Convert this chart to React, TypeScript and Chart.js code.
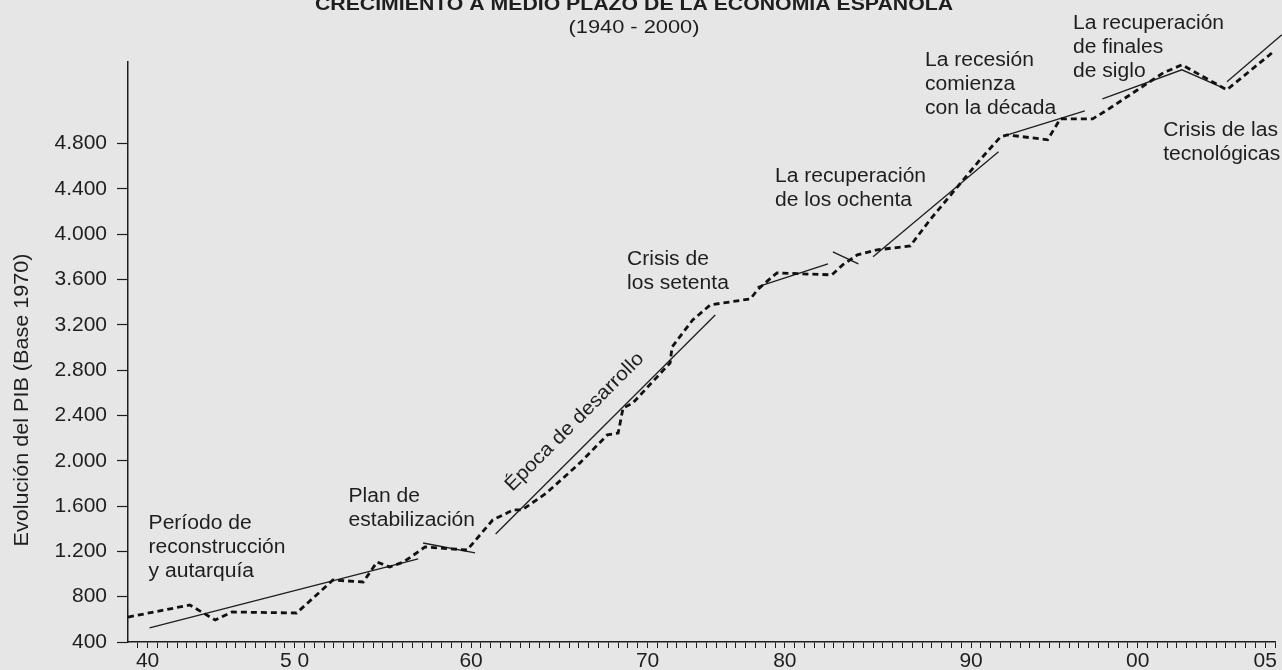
import React, { useEffect, useRef } from 'react';
import { Chart, registerables } from 'chart.js';

Chart.register(...registerables);

// ---- axis ticks ----
const xTickPositions = [1, 16, 34, 52, 66, 85, 102, 115];
const xTickLabels = ['40', '5 0', '60', '70', '80', '90', '00', '05'];
const yTickValues = [400, 800, 1200, 1600, 2000, 2400, 2800, 3200, 3600, 4000, 4400, 4800];

// ---- PIB series (dotted), x in minor-tick units ----
const gdpX = [-1.0, 4.8, 5.3, 7.9, 9.6, 16.2, 19.9, 23.0, 24.4, 25.7, 27.1, 29.3, 33.6, 36.2, 38.3, 39.2, 41.7, 45.1, 47.9, 49.0, 49.5, 50.5, 54.3, 54.5, 56.6, 58.4, 62.5, 63.2, 64.7, 65.2, 70.8, 71.9, 73.4, 75.4, 78.8, 80.8, 84.2, 85.9, 88.0, 88.7, 92.8, 94.1, 97.4, 98.9, 104.6, 106.5, 111.1, 111.7, 115.7];
const gdpY = [620, 718, 727, 594, 665, 656, 947, 930, 1106, 1062, 1106, 1239, 1212, 1477, 1566, 1566, 1716, 1981, 2228, 2245, 2466, 2510, 2864, 3005, 3243, 3376, 3429, 3508, 3623, 3658, 3641, 3729, 3817, 3861, 3897, 4126, 4479, 4656, 4859, 4877, 4833, 5018, 5018, 5098, 5424, 5495, 5274, 5318, 5601];

// ---- trend segments (solid) ----
const trendReconstruccionX = [1.2, 28.6];
const trendReconstruccionY = [524, 1133];
const trendEstabilizacionX = [29.1, 34.4];
const trendEstabilizacionY = [1274, 1186];
const trendDesarrolloX = [36.5, 58.9];
const trendDesarrolloY = [1354, 3287];
const trendSetentaX = [63.2, 70.4];
const trendSetentaY = [3535, 3738];
const trendCruceX = [70.9, 73.5];
const trendCruceY = [3844, 3738];
const trendOchentaX = [75.0, 87.8];
const trendOchentaY = [3800, 4727];
const trendRecesionX = [88.7, 96.6];
const trendRecesionY = [4877, 5089];
const trendFinalesX = [98.4, 106.5, 110.7];
const trendFinalesY = [5195, 5451, 5292];
const trendTecnoX = [111.1, 116.7];
const trendTecnoY = [5345, 5760];

// ---- texts ----
const titleText = 'CRECIMIENTO A MEDIO PLAZO DE LA ECONOMÍA ESPAÑOLA';
const subtitleText = '(1940 - 2000)';
const yAxisTitle = 'Evolución del PIB (Base 1970)';
const noteTexts = [
  ['Período de', 'reconstrucción', 'y autarquía'],
  ['Plan de', 'estabilización'],
  ['Crisis de', 'los setenta'],
  ['La recuperación', 'de los ochenta'],
  ['La recesión', 'comienza', 'con la década'],
  ['La recuperación', 'de finales', 'de siglo'],
  ['Crisis de las', 'tecnológicas'],
];
const diagonalNote = 'Época de desarrollo';

// anchors of the notes (data coordinates: x unit, PIB value at first baseline)
const noteAnchorX = [1.1, 21.5, 49.9, 65.0, 80.3, 95.4, 104.6];
const noteAnchorY = [1398, 1636, 3729, 4462, 5486, 5813, 4868];
const diagonalAnchor = { x: 38.2, y: 1724 };

const BG = '#e6e6e6';
const INK = '#1e1e1e';
const FAMILY = '"Liberation Sans", Arial, Helvetica, sans-serif';
const STRETCH = 1.08;

function fmtThousands(v: number): string {
  if (v < 1000) return String(v);
  const th = Math.floor(v / 1000);
  const rest = String(v % 1000).padStart(3, '0');
  return th + '.' + rest;
}

function drawStretched(ctx: CanvasRenderingContext2D, text: string, x: number, y: number, sx: number, align: 'left' | 'center') {
  const w = ctx.measureText(text).width * sx;
  ctx.save();
  ctx.translate(align === 'center' ? x - w / 2 : x, y);
  ctx.scale(sx, 1);
  ctx.textAlign = 'left';
  ctx.fillText(text, 0, 0);
  ctx.restore();
}

function drawFitted(ctx: CanvasRenderingContext2D, text: string, cx: number, y: number, targetW: number) {
  const w = ctx.measureText(text).width;
  drawStretched(ctx, text, cx, y, targetW / w, 'center');
}

const pts = (xs: number[], ys: number[]) => xs.map((x, i) => ({ x, y: ys[i] }));

export default function App() {
  const ref = useRef<HTMLCanvasElement>(null);

  useEffect(() => {
    document.body.style.margin = '0';
    document.body.style.background = BG;
    const canvas = ref.current;
    if (!canvas) return;

    const decor = {
      id: 'decor',
      beforeDraw(chart: any) {
        const { ctx, width, height } = chart;
        ctx.save();
        ctx.fillStyle = BG;
        ctx.fillRect(0, 0, width, height);
        ctx.restore();
      },
      afterDraw(chart: any) {
        const ctx: CanvasRenderingContext2D = chart.ctx;
        const xs = chart.scales.x;
        const ys = chart.scales.y;
        ctx.save();
        ctx.fillStyle = INK;
        ctx.textBaseline = 'alphabetic';

        ctx.font = `bold 19px ${FAMILY}`;
        drawFitted(ctx, titleText, 634, 10, 638);
        ctx.font = `19px ${FAMILY}`;
        drawFitted(ctx, subtitleText, 634, 33, 131);

        // y axis title
        ctx.save();
        ctx.translate(22, 400);
        ctx.rotate(-Math.PI / 2);
        ctx.font = `20px ${FAMILY}`;
        ctx.textBaseline = 'middle';
        drawStretched(ctx, yAxisTitle, 0, 0, STRETCH, 'center');
        ctx.restore();

        // notes
        ctx.font = `19.5px ${FAMILY}`;
        noteTexts.forEach((lines, i) => {
          const px = xs.getPixelForValue(noteAnchorX[i]);
          const py = ys.getPixelForValue(noteAnchorY[i]);
          lines.forEach((line, j) => drawStretched(ctx, line, px, py + j * 24, STRETCH, 'left'));
        });

        // diagonal note
        ctx.save();
        ctx.translate(xs.getPixelForValue(diagonalAnchor.x), ys.getPixelForValue(diagonalAnchor.y));
        ctx.rotate(-Math.PI / 4);
        drawStretched(ctx, diagonalNote, 0, 0, STRETCH, 'left');
        ctx.restore();

        ctx.restore();
      },
    };

    const trend = (xsArr: number[], ysArr: number[]) => ({
      data: pts(xsArr, ysArr),
      borderColor: INK,
      borderWidth: 1.3,
      pointRadius: 0,
      tension: 0,
      fill: false,
      clip: false as any,
    });

    const chart = new Chart(canvas, {
      type: 'line',
      data: {
        datasets: [
          {
            data: pts(gdpX, gdpY),
            borderColor: '#111',
            borderWidth: 2.8,
            borderDash: [6, 4],
            pointRadius: 0,
            tension: 0,
            fill: false,
            clip: false as any,
          },
          trend(trendReconstruccionX, trendReconstruccionY),
          trend(trendEstabilizacionX, trendEstabilizacionY),
          trend(trendDesarrolloX, trendDesarrolloY),
          trend(trendSetentaX, trendSetentaY),
          trend(trendCruceX, trendCruceY),
          trend(trendOchentaX, trendOchentaY),
          trend(trendRecesionX, trendRecesionY),
          trend(trendFinalesX, trendFinalesY),
          trend(trendTecnoX, trendTecnoY),
        ],
      },
      options: {
        animation: false,
        responsive: false,
        devicePixelRatio: 1,
        layout: { padding: { top: 62, right: 7, left: 0, bottom: 0 } },
        plugins: {
          legend: { display: false },
          tooltip: { enabled: false },
          title: { display: false },
        },
        scales: {
          x: {
            type: 'linear',
            min: -1,
            max: 116,
            afterBuildTicks: (s: any) => {
              s.ticks = Array.from({ length: 117 }, (_, i) => ({ value: i }));
            },
            afterFit: (s: any) => {
              s.height = 28;
            },
            ticks: {
              autoSkip: false,
              maxRotation: 0,
              minRotation: 0,
              padding: 1,
              color: INK,
              font: { family: FAMILY, size: 21 },
              callback: (v: any) => {
                const k = xTickPositions.indexOf(Number(v));
                return k >= 0 ? xTickLabels[k] : '';
              },
            },
            grid: { drawOnChartArea: false, drawTicks: true, tickLength: 6, tickColor: INK, tickWidth: 1 },
            border: { display: true, color: INK, width: 1.5 },
          },
          y: {
            type: 'linear',
            min: 400,
            max: 5520,
            afterBuildTicks: (s: any) => {
              s.ticks = yTickValues.map((v) => ({ value: v }));
            },
            afterFit: (s: any) => {
              s.width = 128;
            },
            ticks: {
              padding: 10,
              color: INK,
              font: { family: FAMILY, size: 21 },
              callback: (v: any) => fmtThousands(Number(v)),
            },
            grid: { drawOnChartArea: false, drawTicks: true, tickLength: 11, tickColor: INK, tickWidth: 1.2 },
            border: { display: true, color: INK, width: 1.5 },
          },
        },
      },
      plugins: [decor],
    });

    return () => chart.destroy();
  }, []);

  return (
    <div style={{ width: 1282, height: 670, background: BG, position: 'absolute', left: 0, top: 0 }}>
      <canvas ref={ref} width={1282} height={670} style={{ display: 'block', width: 1282, height: 670 }} />
    </div>
  );
}
